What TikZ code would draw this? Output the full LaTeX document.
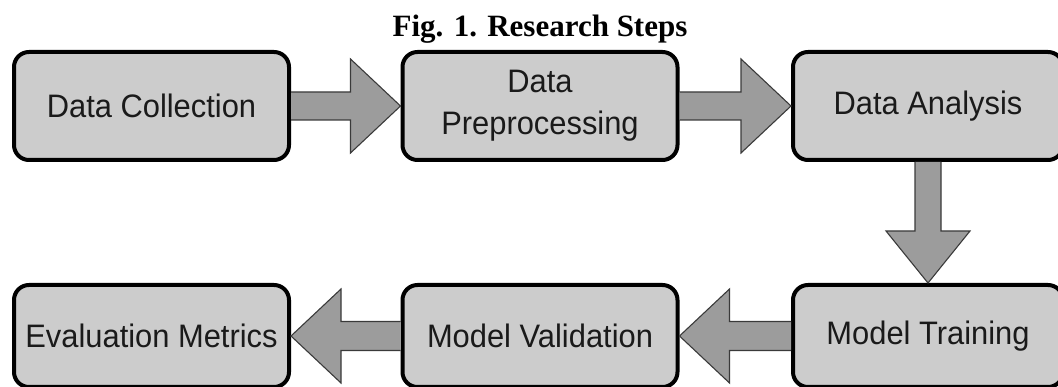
\documentclass[tikz,border=0pt]{standalone}
\usepackage{fontspec}
\setmainfont{Liberation Serif}
\newfontfamily\boxfont[FakeStretch=0.95]{Liberation Sans}
\usetikzlibrary{calc}
\definecolor{boxgray}{HTML}{CCCCCC}
\definecolor{arrowgray}{HTML}{9C9C9C}
\definecolor{arrowedge}{HTML}{3A3A3A}
\definecolor{textdark}{HTML}{1A1A1A}
\begin{document}
\begin{tikzpicture}[x=1pt,y=-1pt,
  stepbox/.style={rectangle, rounded corners=15pt, draw=black, line width=4pt,
    fill=boxgray, inner sep=0pt, align=center, text=textdark,
    minimum width=275pt, minimum height=108pt,
    font=\boxfont\fontsize{32.5}{42}\selectfont},
  lowbox/.style={stepbox, minimum height=102pt},
  blockarrow/.style={fill=arrowgray, draw=arrowedge, line width=1.1pt, line join=miter}]
\useasboundingbox (0,0) rectangle (1058,387);

% title
\node[anchor=base, font=\bfseries\fontsize{31}{36}\selectfont] (title) at (540,37) {Fig. 1. Research Steps};

% top row
\node[stepbox] (collect) at (151.5,106) {Data Collection};
\node[stepbox] (prep) at (540,106) {Data\\Preprocessing};
\node[stepbox, minimum width=270pt] (analysis) at (928,106) {Data Analysis};

% bottom row
\node[lowbox] (metrics) at (151.5,336) {Evaluation Metrics};
\node[lowbox] (valid) at (540,336) {Model Validation};
\node[lowbox, minimum width=270pt] (train) at (928,336) {Model Training};

% rightward block arrows
\draw[blockarrow] ($(collect.east)+(0,-14)$) -- ($(prep.west)+(-50,-14)$)
  -- ($(prep.west)+(-50,-47)$) -- (prep.west) -- ($(prep.west)+(-50,47)$)
  -- ($(prep.west)+(-50,14)$) -- ($(collect.east)+(0,14)$);
\draw[blockarrow] ($(prep.east)+(0,-14)$) -- ($(analysis.west)+(-50,-14)$)
  -- ($(analysis.west)+(-50,-47)$) -- (analysis.west) -- ($(analysis.west)+(-50,47)$)
  -- ($(analysis.west)+(-50,14)$) -- ($(prep.east)+(0,14)$);

% downward block arrow
\draw[blockarrow] ($(analysis.south)+(-13,0)$) -- ($(train.north)+(-13,-52)$)
  -- ($(train.north)+(-42,-52)$) -- (train.north) -- ($(train.north)+(42,-52)$)
  -- ($(train.north)+(13,-52)$) -- ($(analysis.south)+(13,0)$);

% leftward block arrows
\draw[blockarrow] ($(train.west)+(0,-14.5)$) -- ($(valid.east)+(50,-14.5)$)
  -- ($(valid.east)+(50,-47)$) -- (valid.east) -- ($(valid.east)+(50,47)$)
  -- ($(valid.east)+(50,14.5)$) -- ($(train.west)+(0,14.5)$);
\draw[blockarrow] ($(valid.west)+(0,-14.5)$) -- ($(metrics.east)+(50,-14.5)$)
  -- ($(metrics.east)+(50,-47)$) -- (metrics.east) -- ($(metrics.east)+(50,47)$)
  -- ($(metrics.east)+(50,14.5)$) -- ($(valid.west)+(0,14.5)$);
\end{tikzpicture}
\end{document}
